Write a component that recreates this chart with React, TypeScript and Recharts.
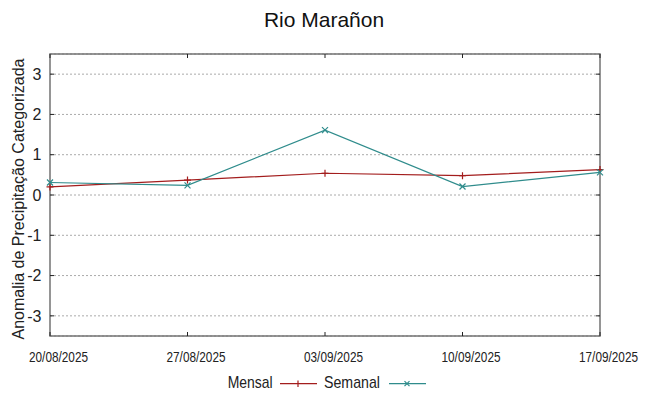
import React from 'react';
import { LineChart, Line, XAxis, YAxis, CartesianGrid, ReferenceArea } from 'recharts';

const dateLabels = ['20/08/2025', '27/08/2025', '03/09/2025', '10/09/2025', '17/09/2025'];
const dayOffsets = [0, 7, 14, 21, 28];
const mensal = [0.2, 0.37, 0.54, 0.48, 0.63];
const semanal = [0.31, 0.24, 1.61, 0.21, 0.56];
const yTicks = [-3, -2, -1, 0, 1, 2, 3];
const titleText = 'Rio Marañon';
const yLabelText = 'Anomalia de Precipitação Categorizada';
const seriesNames = ['Mensal', 'Semanal'];

const data = dayOffsets.map((d, i) => ({ day: d, label: dateLabels[i], mensal: mensal[i], semanal: semanal[i] }));

const RED = '#a31d1d';
const TEAL = '#2f8c8c';
const W = 648;
const H = 396;
const PLOT_L = 50;
const PLOT_R = 600;
const PLOT_T = 54;
const PLOT_B = 336;
const TICK = 4;
const SANS = '"Liberation Sans", Arial, sans-serif';

const PlusDot = (props: any) => {
  const { cx, cy, index } = props;
  if (cx == null || cy == null) return <g key={index} />;
  return (
    <path key={index} d={`M${cx - 3.5},${cy}h7M${cx},${cy - 3.5}v7`} stroke={RED} strokeWidth={1.2} fill="none" />
  );
};

const XDot = (props: any) => {
  const { cx, cy, index } = props;
  if (cx == null || cy == null) return <g key={index} />;
  return (
    <path key={index} d={`M${cx - 3},${cy - 3}l6,6M${cx - 3},${cy + 3}l6,-6`} stroke={TEAL} strokeWidth={1.2} fill="none" />
  );
};

const XTick = (props: any) => {
  const { x, payload } = props;
  const idx = dayOffsets.indexOf(payload.value);
  return (
    <g>
      <line x1={x} x2={x} y1={PLOT_B} y2={PLOT_B - TICK} stroke="#222" strokeWidth={1} />
      <line x1={x} x2={x} y1={PLOT_T} y2={PLOT_T + TICK} stroke="#222" strokeWidth={1} />
      <text x={x + 8.5} y={361.7} textAnchor="middle" fontFamily={SANS} fontSize={14.5} textLength={59} lengthAdjust="spacingAndGlyphs" fill="#222">
        {idx >= 0 ? dateLabels[idx] : ''}
      </text>
    </g>
  );
};

const YTick = (props: any) => {
  const { y, payload } = props;
  return (
    <g>
      <line x1={PLOT_L} x2={PLOT_L + TICK} y1={y} y2={y} stroke="#222" strokeWidth={1} />
      <line x1={PLOT_R} x2={PLOT_R - TICK} y1={y} y2={y} stroke="#222" strokeWidth={1} />
      <text x={41.5} y={y} dy="0.36em" textAnchor="end" fontFamily={SANS} fontSize={16} fill="#222">
        {payload.value}
      </text>
    </g>
  );
};

export default function App() {
  return (
    <div style={{ position: 'absolute', left: 0, top: 0, width: W, height: H, background: '#fff' }}>
      <LineChart width={W} height={H} data={data} margin={{ top: PLOT_T, right: W - PLOT_R, bottom: 0, left: 0 }}>
        <CartesianGrid vertical={false} stroke="#aaaaaa" strokeDasharray="2 2" />
        <XAxis
          dataKey="day"
          type="number"
          domain={[0, 28]}
          ticks={dayOffsets}
          height={H - PLOT_B}
          axisLine={false}
          tickLine={false}
          tickSize={0}
          tick={<XTick />}
          interval={0}
        />
        <YAxis
          type="number"
          domain={[-3.5, 3.5]}
          ticks={yTicks}
          width={PLOT_L}
          axisLine={false}
          tickLine={false}
          tickSize={0}
          tickMargin={9}
          tick={<YTick />}
          interval={0}
          allowDataOverflow
        />
        <ReferenceArea x1={0} x2={28} y1={-3.5} y2={3.5} fill="none" stroke="#737373" strokeWidth={1.5} ifOverflow="visible" />
        <Line dataKey="mensal" name={seriesNames[0]} stroke={RED} strokeWidth={1.2} dot={PlusDot} activeDot={false} isAnimationActive={false} />
        <Line dataKey="semanal" name={seriesNames[1]} stroke={TEAL} strokeWidth={1.2} dot={XDot} activeDot={false} isAnimationActive={false} />
      </LineChart>
      <svg width={W} height={H} style={{ position: 'absolute', left: 0, top: 0, pointerEvents: 'none' }}>
        <text x={324} y={27} textAnchor="middle" fontFamily={SANS} fontSize={21} fill="#111">{titleText}</text>
        <text x={24} y={199} transform="rotate(-90 24 199)" textAnchor="middle" fontFamily={SANS} fontSize={16} fill="#222">{yLabelText}</text>
        <g>
          <text x={272.7} y={388} textAnchor="end" fontFamily={SANS} fontSize={17} textLength={45} lengthAdjust="spacingAndGlyphs" fill="#222">{seriesNames[0]}</text>
          <line x1={280} x2={317} y1={383.7} y2={383.7} stroke={RED} strokeWidth={1.2} />
          <path d="M298,380.5v6.5" stroke={RED} strokeWidth={1.2} />
          <text x={380} y={388} textAnchor="end" fontFamily={SANS} fontSize={17} textLength={56} lengthAdjust="spacingAndGlyphs" fill="#222">{seriesNames[1]}</text>
          <line x1={389} x2={426} y1={383.7} y2={383.7} stroke={TEAL} strokeWidth={1.2} />
          <path d="M404.5,381.2l5,5M404.5,386.2l5,-5" stroke={TEAL} strokeWidth={1.2} />
        </g>
      </svg>
    </div>
  );
}
